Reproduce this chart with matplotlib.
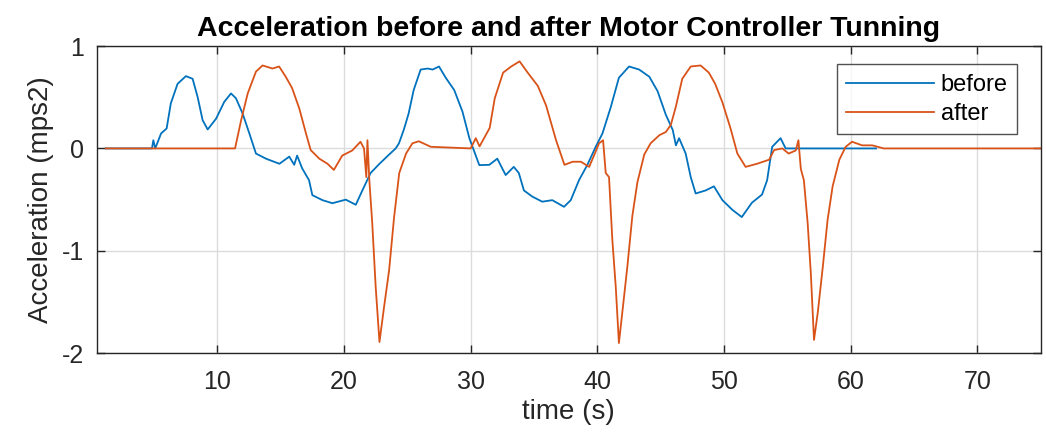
import numpy as np
import matplotlib
matplotlib.use('Agg')
import matplotlib.pyplot as plt

plt.rcParams['font.family'] = ['Liberation Sans', 'DejaVu Sans']
plt.rcParams['axes.unicode_minus'] = False

# "before" tuning trace, (time s, acceleration mps2)
t_before = [1.2, 4.84, 4.95, 5.1, 5.56, 6.0, 6.33, 6.86, 7.52, 8.05, 8.45, 8.84, 9.24,
            9.9, 10.55, 11.08, 11.47, 12.0, 12.53, 13.05, 13.84, 14.9, 15.68, 16.07,
            16.3, 16.7, 17.24, 17.5, 18.3, 19.08, 20.14, 20.93, 21.45, 22.1, 22.8,
            23.56, 24.08, 24.34, 24.74, 25.1, 25.5, 26.05, 26.6, 27.0, 27.5, 28.03,
            28.7, 29.35, 29.9, 30.68, 31.47, 32.1, 32.76, 33.4, 33.8, 34.2, 34.86,
            35.65, 36.44, 37.37, 37.9, 38.55, 39.2, 39.87, 40.4, 41.05, 41.7, 42.5,
            43.3, 44.1, 44.75, 45.4, 45.95, 46.2, 46.45, 46.97, 47.37, 47.76, 48.55,
            49.2, 49.87, 50.66, 51.4, 52.2, 53.0, 53.4, 53.8, 54.46, 54.86, 62.0]
a_before = [0.0, 0.0, 0.08, 0.0, 0.146, 0.195, 0.44, 0.63, 0.706, 0.68, 0.50, 0.276, 0.185,
            0.29, 0.455, 0.537, 0.49, 0.34, 0.146, -0.05, -0.1, -0.15, -0.08, -0.16,
            -0.07, -0.195, -0.31, -0.456, -0.505, -0.535, -0.5, -0.55, -0.41, -0.24, -0.15,
            -0.06, 0.0, 0.05, 0.19, 0.34, 0.57, 0.77, 0.78, 0.77, 0.80, 0.69,
            0.57, 0.36, 0.098, -0.163, -0.16, -0.1, -0.26, -0.18, -0.24, -0.41, -0.47,
            -0.52, -0.505, -0.57, -0.505, -0.31, -0.163, 0.016, 0.146, 0.40, 0.69, 0.80,
            0.77, 0.70, 0.56, 0.33, 0.18, 0.03, 0.1, -0.05, -0.28, -0.44, -0.41,
            -0.37, -0.505, -0.60, -0.67, -0.53, -0.45, -0.31, 0.016, 0.1, 0.0, 0.0]

# "after" tuning trace
t_after = [1.2, 11.4, 11.87, 12.4, 13.05, 13.57, 14.36, 14.88, 15.4, 15.9, 16.47, 17.0,
           17.37, 18.05, 18.7, 19.2, 19.86, 20.65, 21.3, 21.58, 21.76, 21.85, 22.0,
           22.23, 22.5, 22.8, 23.16, 23.56, 23.95, 24.36, 24.9, 25.4, 25.9, 26.85,
           30.0, 30.4, 30.7, 31.5, 31.9, 32.56, 33.2, 33.86, 34.5, 35.3, 35.95, 36.74,
           37.4, 38.05, 38.7, 39.35, 39.73, 40.13, 40.45, 40.66, 40.92, 41.18, 41.45,
           41.7, 41.97, 42.37, 42.76, 43.16, 43.7, 44.2, 44.9, 45.4, 45.8, 46.2, 46.7,
           47.37, 48.15, 48.8, 49.3, 49.87, 50.5, 51.05, 51.7, 52.6, 53.56, 53.95,
           54.6, 55.1, 55.66, 55.87, 56.06, 56.3, 56.6, 56.85, 57.1, 57.4, 57.8,
           58.17, 58.57, 59.1, 59.6, 60.1, 60.9, 61.7, 62.6, 75.0]
a_after = [0.0, 0.0, 0.27, 0.537, 0.75, 0.81, 0.78, 0.8, 0.7, 0.59, 0.39, 0.146,
           -0.016, -0.1, -0.15, -0.21, -0.07, -0.02, 0.065, 0.0, -0.28, 0.08, -0.31,
           -0.73, -1.35, -1.89, -1.55, -1.19, -0.676, -0.24, -0.05, 0.05, 0.07, 0.016,
           0.0, 0.1, 0.02, 0.2, 0.49, 0.74, 0.80, 0.85, 0.74, 0.61, 0.42, 0.08,
           -0.16, -0.13, -0.13, -0.18, -0.07, 0.05, 0.08, -0.24, -0.28, -0.89, -1.35,
           -1.90, -1.6, -1.15, -0.66, -0.33, -0.06, 0.05, 0.13, 0.16, 0.23, 0.41, 0.68,
           0.80, 0.81, 0.74, 0.63, 0.45, 0.2, -0.05, -0.18, -0.15, -0.11, -0.016,
           0.0, -0.05, -0.02, 0.08, -0.2, -0.31, -0.73, -1.22, -1.87, -1.6, -1.15,
           -0.7, -0.37, -0.11, 0.016, 0.065, 0.03, 0.03, 0.0, 0.0]

x_ticks = [10, 20, 30, 40, 50, 60, 70]
y_ticks = [-2, -1, 0, 1]

fig = plt.figure(figsize=(10.46, 4.34), dpi=100)
ax = fig.add_axes([0.0927, 0.186, 0.9023, 0.708])

ax.plot(t_before, a_before, color='#0072BD', lw=1.3, label='before')
ax.plot(t_after, a_after, color='#D95319', lw=1.3, label='after')

ax.set_xlim(0.5, 75)
ax.set_ylim(-2, 1)
ax.set_xticks(x_ticks)
ax.set_yticks(y_ticks)
ax.grid(True, color='#dcdcdc', lw=1.0)
ax.set_axisbelow(True)
for s in ax.spines.values():
    s.set_color('#262626')
    s.set_linewidth(1.0)
ax.tick_params(direction='in', top=True, right=True, length=6, width=1.0,
               colors='#262626', labelsize=18)
ax.tick_params(axis='x', pad=12)
ax.tick_params(axis='y', pad=9)

ax.set_title('Acceleration before and after Motor Controller Tunning',
             fontsize=20.5, fontweight='bold', pad=7)
ax.set_xlabel('time (s)', fontsize=20, color='#262626', labelpad=4)
ax.set_ylabel('Acceleration (mps2)', fontsize=20, color='#262626', labelpad=6)

leg = ax.legend(loc='upper right', bbox_to_anchor=(0.975, 0.94), borderaxespad=0,
                fontsize=17, frameon=True, fancybox=False, edgecolor='#262626',
                handlelength=3.7, handletextpad=0.3, borderpad=0.4, labelspacing=0.3)
leg.get_frame().set_linewidth(1.0)

fig.savefig('out.png', dpi=100)
